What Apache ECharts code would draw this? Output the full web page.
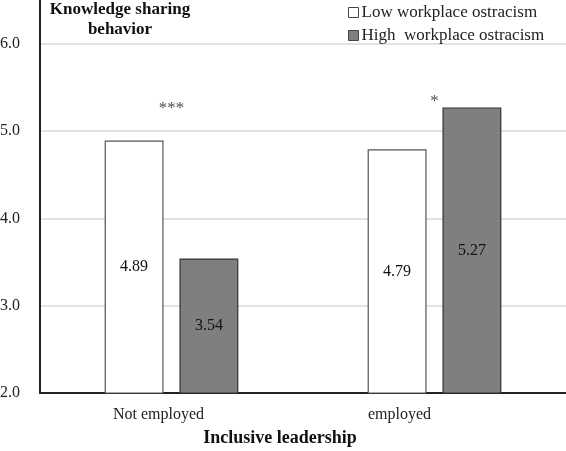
<!DOCTYPE html>
<html><head><meta charset="utf-8">
<script src="https://cdn.jsdelivr.net/npm/echarts@6/dist/echarts.min.js"></script>
<style>html,body{margin:0;padding:0;background:#fff}#c{width:566px;height:451px}</style>
</head><body><div id="c"></div>
<script>
const categories = ['Not employed', 'employed'];
const lowOstracism = [4.89, 4.79];
const highOstracism = [3.54, 5.27];
const sigMarks = ['***', '*'];
const sigLevels = [5.26, 5.34];
const seriesNames = ['Low workplace ostracism', 'High  workplace ostracism'];
const yTitle = 'Knowledge sharing\nbehavior';
const xTitle = 'Inclusive leadership';

const FONT = '"Liberation Serif", "Times New Roman", serif';
const chart = echarts.init(document.getElementById('c'), null, {renderer: 'canvas'});
const labelPad = {'Not employed': 26, 'employed': 70};

chart.setOption({
  animation: false,
  backgroundColor: '#fff',
  grid: {left: 40, right: 0, top: 0, bottom: 58, containLabel: false, outerBoundsMode: 'none'},
  legend: {
    orient: 'vertical', left: 343, top: -1, itemWidth: 10, itemHeight: 10, itemGap: 6,
    icon: 'rect',
    textStyle: {fontFamily: FONT, fontSize: 17, color: '#222', padding: [0, 0, 0, -2]},
    data: [
      {name: seriesNames[0], itemStyle: {color: '#fff', borderColor: '#444', borderWidth: 1}},
      {name: seriesNames[1], itemStyle: {color: '#7f7f7f', borderColor: '#444', borderWidth: 1}}
    ]
  },
  xAxis: {
    type: 'category', data: categories,
    axisLine: {lineStyle: {color: '#222', width: 2}},
    axisTick: {show: false},
    axisLabel: {
      margin: 14,
      formatter: v => '{' + (v === 'employed' ? 'b' : 'a') + '|' + v + '}',
      rich: {
        a: {fontFamily: FONT, fontSize: 16, color: '#222', padding: [0, labelPad['Not employed'], 0, 0]},
        b: {fontFamily: FONT, fontSize: 16, color: '#222', padding: [0, labelPad['employed'], 0, 0]}
      },
      fontFamily: FONT, fontSize: 16, color: '#222'
    }
  },
  yAxis: {
    type: 'value', min: 2, max: 6.5, interval: 1,
    axisLine: {show: true, lineStyle: {color: '#222', width: 2}},
    axisTick: {show: false},
    axisLabel: {showMaxLabel: false, margin: 20, formatter: v => v.toFixed(1), fontFamily: FONT, fontSize: 16, color: '#222'},
    splitLine: {show: true, showMaxLine: false, lineStyle: {color: '#d9d9d9', width: 1.5}}
  },
  series: [
    {
      name: seriesNames[0], type: 'bar', data: lowOstracism, barWidth: '22.4%', barGap: '27%',
      itemStyle: {color: '#fff', borderColor: '#555', borderWidth: 1.2},
      label: {show: true, position: 'inside', formatter: p => p.value.toFixed(2), fontFamily: FONT, fontSize: 16, color: '#111'}
    },
    {
      name: seriesNames[1], type: 'bar', data: highOstracism, barWidth: '22.4%',
      itemStyle: {color: '#7f7f7f', borderColor: '#333', borderWidth: 1.2},
      label: {show: true, position: 'inside', formatter: p => p.value.toFixed(2), fontFamily: FONT, fontSize: 16, color: '#111'}
    },
    {
      type: 'scatter', symbolSize: 0, silent: true,
      data: sigLevels.map((v, i) => [categories[i], v]),
      label: {show: true, position: 'inside', formatter: p => sigMarks[p.dataIndex], fontFamily: FONT, fontSize: 17, color: '#222'}
    }
  ],
  graphic: [
    {type: 'text', x: 120, y: 0, style: {text: yTitle, font: 'bold 17px ' + FONT, fill: '#111', align: 'center', lineHeight: 20}},
    {type: 'text', x: 280, y: 429, style: {text: xTitle, font: 'bold 18px ' + FONT, fill: '#111', align: 'center'}}
  ]
});
</script></body></html>
